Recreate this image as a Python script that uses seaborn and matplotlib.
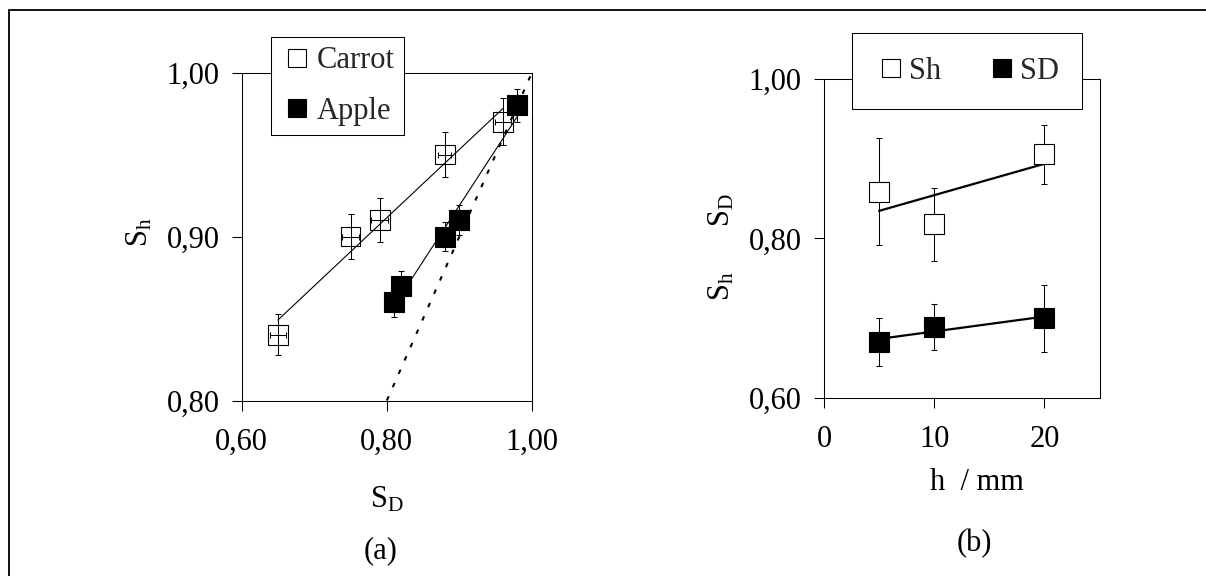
import numpy as np
import pandas as pd
import matplotlib
matplotlib.use("Agg")
import matplotlib.pyplot as plt
from matplotlib.lines import Line2D
from matplotlib.patches import Rectangle
import seaborn as sns

# ---------------- data ----------------
carrot_sd = [0.65, 0.75, 0.79, 0.88, 0.96]
carrot_sh = [0.84, 0.90, 0.91, 0.95, 0.97]
carrot_sh_err = [0.0125, 0.0135, 0.0135, 0.014, 0.0145]
carrot_sd_err = [0.011, 0.012, 0.012, 0.009, 0.011]

apple_sd = [0.81, 0.82, 0.88, 0.90, 0.98]
apple_sh = [0.86, 0.87, 0.90, 0.91, 0.98]
apple_sh_err = [0.009, 0.009, 0.009, 0.009, 0.010]

parity_line = [0.80, 1.00]

h_mm = [5, 10, 20]
sh_vals = [0.859, 0.818, 0.906]
sh_err = [0.067, 0.046, 0.037]
sd_vals = [0.670, 0.689, 0.700]
sd_err = [0.030, 0.029, 0.042]

a_xticks = [0.60, 0.80, 1.00]
a_yticks = [0.80, 0.90, 1.00]
b_xticks = [0, 10, 20]
b_yticks = [0.60, 0.80, 1.00]
a_xticklabels = ["0,60", "0,80", "1,00"]
a_yticklabels = ["0,80", "0,90", "1,00"]
b_xticklabels = ["0", "10", "20"]
b_yticklabels = ["0,60", "0,80", "1,00"]

# ---------------- style ----------------
sns.set_style("ticks")
plt.rcParams["font.family"] = ["Liberation Serif", "DejaVu Serif"]
plt.rcParams["mathtext.default"] = "regular"
plt.rcParams["axes.linewidth"] = 0.75
plt.rcParams["axes.edgecolor"] = "black"
FS = 22

W, H = 1206, 576
fig = plt.figure(figsize=(W / 100, H / 100), dpi=100)
fig.patch.set_facecolor("white")

def px_axes(l, t, r, b):
    return fig.add_axes([l / W, 1 - b / H, (r - l) / W, (b - t) / H])

axA = px_axes(241.7, 72.5, 532.0, 400.5)
axB = px_axes(824.0, 79.3, 1099.5, 397.7)

MS = 14.3
EB = dict(fmt="none", ecolor="black", elinewidth=0.75, capsize=2.2, capthick=0.75)

# ---- panel (a) ----
axA.plot(parity_line, parity_line, color="black", lw=1.5,
         linestyle=(0, (2.2, 4.8)), zorder=1)
sns.regplot(x=carrot_sd, y=carrot_sh, ax=axA, ci=None, scatter=False,
            truncate=True, line_kws=dict(color="black", lw=0.8, zorder=2))
sns.regplot(x=apple_sd, y=apple_sh, ax=axA, ci=None, scatter=False,
            truncate=True, line_kws=dict(color="black", lw=0.8, zorder=2))
axA.errorbar(carrot_sd, carrot_sh, yerr=carrot_sh_err, xerr=carrot_sd_err,
             zorder=3, **EB)
axA.errorbar(apple_sd, apple_sh, yerr=apple_sh_err, zorder=3, **EB)
sns.scatterplot(x=carrot_sd, y=carrot_sh, ax=axA, marker="s", s=MS ** 2,
                facecolor="none", edgecolor="black", linewidth=0.8, zorder=4)
sns.scatterplot(x=apple_sd, y=apple_sh, ax=axA, marker="s", s=MS ** 2,
                color="black", edgecolor="black", linewidth=0.8, zorder=5)
axA.set_xlim(0.60, 1.00)
axA.set_ylim(0.80, 1.00)
axA.set_xticks(a_xticks, a_xticklabels)
axA.set_yticks(a_yticks, a_yticklabels)

# ---- panel (b) ----
sns.regplot(x=h_mm, y=sh_vals, ax=axB, ci=None, scatter=False, truncate=True,
            line_kws=dict(color="black", lw=1.6, zorder=2))
sns.regplot(x=h_mm, y=sd_vals, ax=axB, ci=None, scatter=False, truncate=True,
            line_kws=dict(color="black", lw=1.6, zorder=2))
axB.errorbar(h_mm, sh_vals, yerr=sh_err, zorder=3, **EB)
axB.errorbar(h_mm, sd_vals, yerr=sd_err, zorder=3, **EB)
sns.scatterplot(x=h_mm, y=sh_vals, ax=axB, marker="s", s=MS ** 2,
                color="white", edgecolor="black", linewidth=0.8, zorder=4)
sns.scatterplot(x=h_mm, y=sd_vals, ax=axB, marker="s", s=MS ** 2,
                color="black", edgecolor="black", linewidth=0.8, zorder=5)
axB.set_xlim(0, 25)
axB.set_ylim(0.60, 1.00)
axB.set_xticks(b_xticks, b_xticklabels)
axB.set_yticks(b_yticks, b_yticklabels)

for ax in (axA, axB):
    for s in ax.spines.values():
        s.set_visible(True)
        s.set_color("black")
        s.set_linewidth(0.75)
    ax.tick_params(axis="both", direction="out", length=7, width=0.75,
                   colors="black", labelsize=FS)
    ax.tick_params(axis="y", pad=9)
    ax.tick_params(axis="x", pad=13)
    ax.set_xlabel("")
    ax.set_ylabel("")
    ax.set_facecolor("none")

# ---- labels ----
def ftxt(x, y, s, **kw):
    fig.text(x / W, 1 - y / H, s, fontsize=FS, color="black", **kw)

ftxt(148, 232.5, "$S_h$", rotation=90, rotation_mode="anchor",
     ha="center", va="baseline")
ftxt(729, 246.5, "$S_h$      $S_D$", rotation=90, rotation_mode="anchor",
     ha="center", va="baseline")
ftxt(386.7, 507, "$S_D$", ha="center", va="baseline")
ftxt(977, 490, "h  / mm", ha="center", va="baseline")
ftxt(381, 558.3, "(a)", ha="center", va="baseline")
ftxt(974.5, 551.7, "(b)", ha="center", va="baseline")

# ---- legends ----
def sq(fc):
    return Line2D([], [], marker="s", linestyle="none", markersize=13.5,
                  markerfacecolor=fc, markeredgecolor="black",
                  markeredgewidth=0.8)

legA = axA.legend([sq("white"), sq("black")], ["Carrot", "Apple"],
                  loc="upper left", bbox_to_anchor=(270.7 / W, 1 - 37.3 / H),
                  bbox_transform=fig.transFigure, borderaxespad=0,
                  fontsize=FS, frameon=True, fancybox=False, framealpha=1,
                  edgecolor="black", borderpad=0.3, labelspacing=0.7,
                  handlelength=1.1, handletextpad=0.1)
legA.get_frame().set_linewidth(0.75)
legA.set_zorder(10)

legB = axB.legend([sq("white"), sq("black")], ["Sh", "SD"], ncol=2,
                  loc="upper left", bbox_to_anchor=(851.7 / W, 1 - 33.3 / H),
                  bbox_transform=fig.transFigure, borderaxespad=0,
                  fontsize=FS, frameon=True, fancybox=False, framealpha=1,
                  edgecolor="black", borderpad=0.76, columnspacing=1.44,
                  handlelength=1.05, handletextpad=0.08)
legB.get_frame().set_linewidth(0.75)
legB.set_zorder(10)

# ---- outer frame ----
fig.add_artist(Rectangle((9 / W, -0.2), 1.3, (1 - 10 / H) + 0.2,
                         transform=fig.transFigure, fill=False,
                         edgecolor="black", lw=1.3, clip_on=False))

fig.savefig("out.png", dpi=100, facecolor="white")
